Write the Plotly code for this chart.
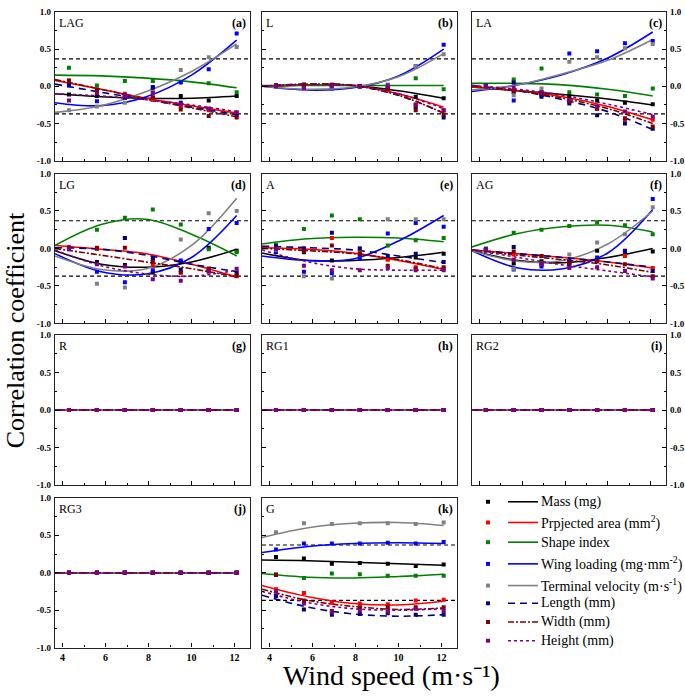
import plotly.graph_objects as go

# ---------------- data ----------------
WIND = [4.3, 5.6, 6.9, 8.2, 9.5, 10.8, 12.1]          # wind speed of measured points
CURVE_X = [3.65, 5.8, 7.9, 10.0, 12.1]                 # positions where fitted curves were read
REF_R = 0.37                                            # critical correlation (dashed lines)

SERIES = ["Mass (mg)", "Prpjected area (mm<sup>2</sup>)", "Shape index",
          "Wing loading (mg·mm<sup>-2</sup>)", "Terminal velocity (m·s<sup>-1</sup>)",
          "Length (mm)", "Width (mm)", "Height (mm)"]

# order of rows in each table: mass, area, shape, wing, terminal, length, width, height
LAG_POINTS = [[-0.11, -0.13, -0.15, -0.15, -0.13, -0.19, -0.13],
              [0.08, -0.04, -0.10, -0.18, -0.27, -0.32, -0.36],
              [0.25, 0.01, 0.07, 0.07, 0.06, 0.04, -0.08],
              [0.01, -0.20, -0.12, -0.01, 0.05, 0.23, 0.71],
              [-0.32, -0.27, -0.22, -0.07, 0.22, 0.39, 0.53],
              [0.02, -0.07, -0.15, -0.02, -0.22, -0.30, -0.39],
              [0.07, -0.05, -0.13, -0.15, -0.31, -0.40, -0.42],
              [-0.19, -0.09, -0.13, -0.09, -0.24, -0.30, -0.35]]
LAG_CURVE = [[-0.10, -0.14, -0.16, -0.16, -0.13],
             [0.08, -0.04, -0.16, -0.26, -0.36],
             [0.15, 0.14, 0.11, 0.06, -0.02],
             [-0.22, -0.26, -0.14, 0.15, 0.62],
             [-0.35, -0.26, -0.07, 0.20, 0.57],
             [0.03, -0.08, -0.18, -0.28, -0.38],
             [0.09, -0.04, -0.17, -0.29, -0.41],
             [-0.10, -0.13, -0.18, -0.25, -0.34]]

L_POINTS = [[0.01, 0.02, 0.01, 0.0, -0.03, -0.14, -0.16],
            [0.0, 0.01, 0.02, 0.0, -0.05, -0.24, -0.32],
            [0.01, 0.01, 0.01, 0.0, 0.0, 0.11, -0.04],
            [0.0, -0.02, -0.03, 0.0, 0.02, 0.27, 0.56],
            [0.0, -0.02, -0.02, 0.0, 0.01, 0.27, 0.43],
            [0.01, 0.02, 0.01, 0.0, -0.03, -0.28, -0.42],
            [0.01, 0.02, 0.02, 0.0, -0.04, -0.32, -0.38],
            [0.0, -0.02, 0.0, 0.0, 0.0, -0.25, -0.32]]
L_CURVE = [[0.0, 0.02, 0.01, -0.06, -0.16],
           [0.0, 0.02, 0.01, -0.10, -0.28],
           [0.01, 0.01, 0.01, 0.01, 0.01],
           [0.0, -0.05, -0.02, 0.14, 0.50],
           [0.0, -0.04, -0.01, 0.13, 0.44],
           [0.0, 0.03, 0.01, -0.12, -0.36],
           [0.0, 0.03, 0.01, -0.12, -0.36],
           [0.0, 0.02, 0.01, -0.10, -0.30]]

LA_POINTS = [[0.0, -0.08, -0.08, -0.13, -0.19, -0.22, -0.24],
             [-0.01, -0.05, -0.11, -0.21, -0.30, -0.45, -0.45],
             [0.01, 0.09, 0.24, -0.08, -0.11, -0.13, -0.03],
             [0.01, -0.19, -0.12, 0.44, 0.47, 0.58, 0.61],
             [0.0, -0.12, -0.03, 0.33, 0.39, 0.51, 0.57],
             [0.0, 0.05, -0.14, -0.23, -0.39, -0.50, -0.57],
             [0.0, -0.06, -0.10, -0.20, -0.30, -0.43, -0.54],
             [0.0, -0.02, -0.08, -0.18, -0.27, -0.34, -0.41]]
LA_CURVE = [[-0.01, -0.06, -0.11, -0.17, -0.25],
            [-0.01, -0.06, -0.14, -0.27, -0.45],
            [0.04, 0.04, 0.02, -0.04, -0.13],
            [-0.07, 0.02, 0.16, 0.38, 0.73],
            [-0.05, 0.02, 0.17, 0.35, 0.63],
            [0.01, -0.06, -0.18, -0.34, -0.58],
            [0.0, -0.06, -0.16, -0.30, -0.50],
            [0.01, -0.04, -0.12, -0.24, -0.38]]

LG_POINTS = [[0.0, -0.18, -0.22, -0.32, -0.18, 0.01, -0.03],
             [0.02, 0.01, 0.14, -0.22, -0.32, -0.27, -0.37],
             [0.0, 0.25, 0.41, 0.52, 0.32, -0.01, -0.05],
             [0.0, -0.31, -0.45, -0.29, -0.16, 0.26, 0.34],
             [0.0, -0.47, -0.52, -0.15, 0.12, 0.47, 0.50],
             [0.0, 0.0, 0.14, -0.14, -0.28, -0.30, -0.32],
             [0.0, 0.0, 0.01, -0.18, -0.32, -0.27, -0.36],
             [-0.01, -0.21, -0.24, -0.41, -0.43, -0.31, -0.27]]
LG_CURVE = [[-0.03, -0.21, -0.25, -0.18, -0.01],
            [0.04, -0.01, -0.07, -0.21, -0.38],
            [0.04, 0.32, 0.39, 0.19, -0.10],
            [-0.07, -0.31, -0.34, -0.12, 0.44],
            [-0.10, -0.28, -0.27, 0.04, 0.67],
            [0.01, -0.01, -0.09, -0.21, -0.31],
            [0.0, -0.09, -0.18, -0.27, -0.38],
            [-0.02, -0.23, -0.34, -0.37, -0.29]]

A_POINTS = [[-0.02, -0.05, -0.16, -0.08, -0.14, -0.12, -0.07],
            [0.01, 0.0, 0.14, -0.05, -0.15, -0.25, -0.27],
            [0.05, 0.26, 0.44, 0.39, 0.04, 0.11, 0.14],
            [-0.05, -0.31, -0.33, -0.13, 0.20, 0.34, 0.29],
            [-0.02, -0.37, -0.40, 0.0, 0.39, 0.39, 0.39],
            [0.03, 0.0, 0.21, 0.0, -0.10, -0.07, -0.18],
            [0.0, -0.04, 0.04, -0.07, -0.23, -0.27, -0.25],
            [-0.01, -0.23, -0.29, -0.29, -0.26, -0.29, -0.29]]
A_CURVE = [[-0.06, -0.16, -0.16, -0.12, -0.05],
           [0.01, -0.01, -0.06, -0.16, -0.28],
           [0.06, 0.13, 0.15, 0.14, 0.09],
           [-0.10, -0.16, -0.14, 0.10, 0.44],
           [None, None, None, None, None],
           [0.03, 0.01, -0.02, -0.10, -0.19],
           [0.0, -0.03, -0.07, -0.15, -0.27],
           [-0.02, -0.18, -0.27, -0.29, -0.29]]

AG_POINTS = [[-0.02, -0.20, -0.17, -0.19, -0.03, -0.08, -0.04],
             [-0.02, -0.08, -0.10, -0.17, -0.16, -0.10, -0.26],
             [0.0, 0.21, 0.25, 0.30, 0.35, 0.31, 0.19],
             [-0.01, -0.28, -0.24, -0.21, -0.12, -0.04, 0.66],
             [-0.02, -0.27, -0.20, -0.08, 0.08, 0.19, 0.55],
             [-0.02, 0.02, -0.21, -0.17, -0.17, -0.03, -0.30],
             [-0.02, -0.04, -0.10, -0.20, -0.17, -0.21, -0.37],
             [-0.01, -0.15, -0.21, -0.26, -0.25, -0.30, -0.40]]
AG_CURVE = [[-0.03, -0.16, -0.19, -0.12, 0.0],
            [-0.02, -0.07, -0.12, -0.18, -0.26],
            [0.02, 0.20, 0.29, 0.31, 0.22],
            [-0.03, -0.26, -0.27, -0.06, 0.52],
            [-0.03, -0.17, -0.16, 0.06, 0.50],
            [-0.02, -0.07, -0.12, -0.18, -0.25],
            [-0.02, -0.09, -0.15, -0.22, -0.32],
            [-0.02, -0.12, -0.22, -0.30, -0.38]]

ZERO_POINTS = [[0.0, 0.0, 0.0, 0.0, 0.0, 0.0, 0.0] for _ in range(8)]
ZERO_CURVE = [[0.0, 0.0, 0.0, 0.0, 0.0] for _ in range(8)]

G_POINTS = [[0.21, 0.19, 0.12, 0.13, 0.12, 0.09, 0.11],
            [-0.22, -0.27, -0.40, -0.41, -0.42, -0.37, -0.36],
            [-0.02, -0.07, -0.01, -0.02, -0.04, -0.04, -0.04],
            [0.31, 0.39, 0.39, 0.39, 0.40, 0.39, 0.41],
            [0.54, 0.66, 0.65, 0.66, 0.66, 0.65, 0.67],
            [-0.31, -0.49, -0.56, -0.55, -0.54, -0.56, -0.56],
            [-0.03, -0.37, -0.51, -0.46, -0.46, -0.46, -0.46],
            [-0.25, -0.41, -0.52, -0.51, -0.52, -0.48, -0.51]]
G_CURVE = [[0.17, 0.16, 0.14, 0.12, 0.10],
           [-0.17, -0.32, -0.41, -0.43, -0.38],
           [-0.01, -0.06, -0.07, -0.05, -0.02],
           [0.27, 0.35, 0.39, 0.40, 0.39],
           [0.47, 0.60, 0.66, 0.67, 0.63],
           [-0.30, -0.46, -0.55, -0.58, -0.56],
           [-0.22, -0.37, -0.45, -0.49, -0.47],
           [-0.25, -0.40, -0.48, -0.50, -0.48]]

Y_TICKS = [-1.0, -0.5, 0.0, 0.5, 1.0]
X_TICKS = [4, 6, 8, 10, 12]

# ---------------- style ----------------
FONT = "Liberation Serif, Times New Roman, serif"
COLORS = ["#000000", "#ff0000", "#008000", "#0000ff", "#808080", "#000080", "#800000", "#800080"]
DASHES = ["solid", "solid", "solid", "solid", "solid", "7px,5px", "6px,2px,2px,2px", "3px,3px"]
W, H = 685, 697
COLS = [(55, 250), (262, 457), (472, 666)]
ROWS = [(7, 158), (171, 323), (335, 487), (500, 652)]

PANELS = [  # name, letter, points, curve, row, col, dashed refs
    ("LAG", "a", LAG_POINTS, LAG_CURVE, 0, 0, True),
    ("L", "b", L_POINTS, L_CURVE, 0, 1, True),
    ("LA", "c", LA_POINTS, LA_CURVE, 0, 2, True),
    ("LG", "d", LG_POINTS, LG_CURVE, 1, 0, True),
    ("A", "e", A_POINTS, A_CURVE, 1, 1, True),
    ("AG", "f", AG_POINTS, AG_CURVE, 1, 2, True),
    ("R", "g", ZERO_POINTS, ZERO_CURVE, 2, 0, False),
    ("RG1", "h", ZERO_POINTS, ZERO_CURVE, 2, 1, False),
    ("RG2", "i", ZERO_POINTS, ZERO_CURVE, 2, 2, False),
    ("RG3", "j", ZERO_POINTS, ZERO_CURVE, 3, 0, False),
    ("G", "k", G_POINTS, G_CURVE, 3, 1, True),
]


def px(x):
    return x / W


def py(y):
    return 1 - y / H


fig = go.Figure()
layout = {}
shapes = []
annotations = []

for i, (name, letter, pts, crv, r, c, dashed) in enumerate(PANELS, start=1):
    xa = "x" if i == 1 else f"x{i}"
    ya = "y" if i == 1 else f"y{i}"
    for s in range(8):
        fig.add_trace(go.Scatter(x=CURVE_X, y=crv[s], mode="lines", xaxis=xa, yaxis=ya,
                                 line=dict(color=COLORS[s], width=1.6, dash=DASHES[s], shape="spline"),
                                 showlegend=False, hoverinfo="skip"))
    for s in range(8):
        fig.add_trace(go.Scatter(x=WIND, y=pts[s], mode="markers", xaxis=xa, yaxis=ya,
                                 marker=dict(symbol="square", size=4, color=COLORS[s], line=dict(width=0)),
                                 showlegend=False, name=SERIES[s]))
    x0, x1 = COLS[c]
    y0, y1 = ROWS[r]
    xk = "xaxis" if i == 1 else f"xaxis{i}"
    yk = "yaxis" if i == 1 else f"yaxis{i}"
    layout[xk] = dict(domain=[px(x0), px(x1)], range=[3.65, 12.72], anchor=ya,
                      tickvals=X_TICKS, ticks="inside", ticklen=4, tickwidth=1, tickcolor="black",
                      showticklabels=(r == 3), ticklabelstandoff=0,
                      tickfont=dict(family=FONT, size=10, color="black", weight="bold"),
                      minor=dict(tickvals=[5, 7, 9, 11], ticks="inside", ticklen=2, tickcolor="black"),
                      showline=True, linecolor="#222", linewidth=1.3, mirror=True,
                      showgrid=False, zeroline=False, fixedrange=True)
    layout[yk] = dict(domain=[py(y1), py(y0)], range=[-1.0, 1.0], anchor=xa,
                      tickvals=Y_TICKS, ticktext=[f"{v:.1f}" for v in Y_TICKS],
                      ticks="inside", ticklen=4, tickwidth=1, tickcolor="black",
                      side="right" if c == 2 else "left",
                      showticklabels=(c != 1), ticklabelstandoff=1,
                      tickfont=dict(family=FONT, size=9, color="black", weight="bold"),
                      minor=dict(tickvals=[-0.75, -0.25, 0.25, 0.75], ticks="inside", ticklen=2, tickcolor="black"),
                      showline=True, linecolor="#222", linewidth=1.3, mirror=True,
                      showgrid=False, zeroline=False, fixedrange=True)
    if dashed:
        for v in (REF_R, -REF_R):
            shapes.append(dict(type="line", xref=f"{xa} domain", yref=ya, x0=0, x1=1, y0=v, y1=v,
                               line=dict(color="black", width=1.2, dash="4px,3px"), layer="below"))
    annotations.append(dict(x=px(x0 + 2), y=py(y0 + 2), xref="paper", yref="paper", text=name,
                            showarrow=False, xanchor="left", yanchor="top",
                            font=dict(family=FONT, size=12, color="black")))
    annotations.append(dict(x=px(x1 - 2), y=py(y0 + 2), xref="paper", yref="paper",
                            text=f"<b>({letter})</b>", showarrow=False, xanchor="right", yanchor="top",
                            font=dict(family=FONT, size=12, color="black")))

# legend in the last cell
LEG_Y = [504, 525, 545, 567, 589, 607, 626, 645]
for s in range(8):
    yy = LEG_Y[s]
    shapes.append(dict(type="rect", xref="paper", yref="paper", x0=px(486), x1=px(490),
                       y0=py(yy + 2), y1=py(yy - 2), fillcolor=COLORS[s], line=dict(width=0)))
    shapes.append(dict(type="line", xref="paper", yref="paper", x0=px(508), x1=px(538),
                       y0=py(yy), y1=py(yy), line=dict(color=COLORS[s], width=1.6, dash=DASHES[s])))
    annotations.append(dict(x=px(539), y=py(yy), xref="paper", yref="paper", text=SERIES[s],
                            showarrow=False, xanchor="left", yanchor="middle",
                            font=dict(family=FONT, size=14, color="black")))

annotations.append(dict(x=px(15), y=py(330), xref="paper", yref="paper", text="Correlation coefficient",
                        textangle=-90, showarrow=False, xanchor="center", yanchor="middle",
                        font=dict(family=FONT, size=26, color="black")))
annotations.append(dict(x=px(391), y=py(697), xref="paper", yref="paper",
                        text="Wind speed (m·s⁻¹)", showarrow=False,
                        xanchor="center", yanchor="bottom", borderpad=0,
                        font=dict(family=FONT, size=28, color="black")))

fig.update_layout(width=W, height=H, margin=dict(l=0, r=0, t=0, b=0),
                  paper_bgcolor="white", plot_bgcolor="white",
                  shapes=shapes, annotations=annotations, showlegend=False, **layout)

fig.write_html("out.html", post_script="document.body.style.margin='0px';",
               config={"displayModeBar": False})
